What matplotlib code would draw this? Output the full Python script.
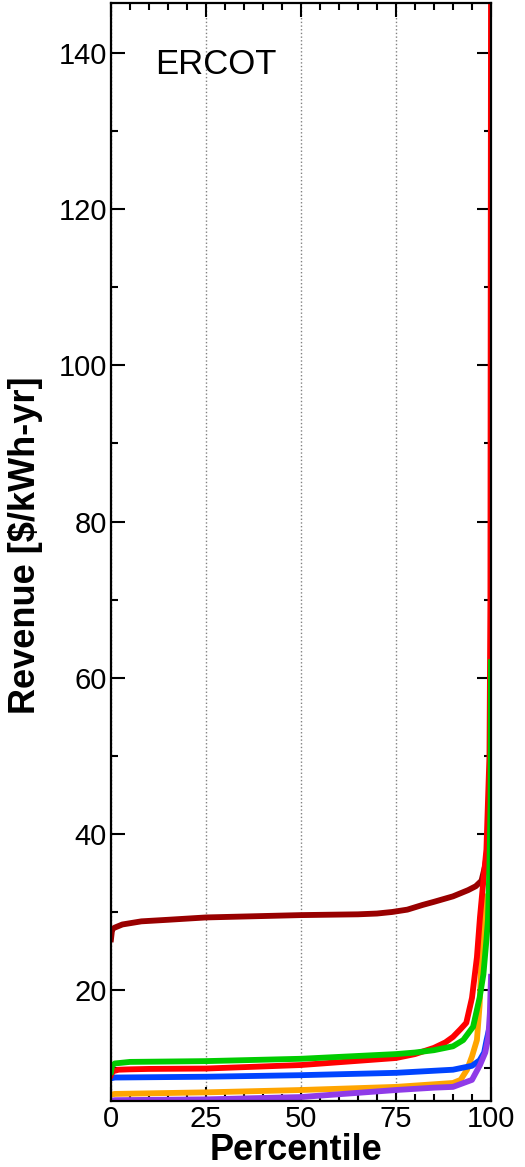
import matplotlib.pyplot as plt
from matplotlib.ticker import MultipleLocator

plt.rcParams['font.family'] = ['Liberation Sans', 'DejaVu Sans']

# percentile / revenue pairs
darkred_x = [0, 0.3, 1, 3, 8, 15, 25, 50, 65, 70, 74, 78, 82, 85, 90, 94, 96, 97.5, 98.5, 99.3, 99.8]
darkred_y = [26.5, 27.8, 28.0, 28.4, 28.8, 29.0, 29.3, 29.6, 29.7, 29.8, 30.0, 30.3, 30.9, 31.3, 32.0, 32.8, 33.3, 34.0, 36.0, 39.0, 42.0]

red_x = [0, 0.5, 2, 5, 10, 25, 50, 75, 80, 85, 88, 90, 92, 93.5, 95, 96.3, 97.1, 98, 98.8, 99.2, 99.6, 99.85, 100]
red_y = [9.1, 9.6, 9.8, 9.85, 9.9, 9.95, 10.4, 11.3, 11.8, 12.6, 13.3, 14.0, 15.0, 15.8, 19.0, 24.2, 29.3, 34.0, 38.0, 44.0, 50.0, 70.0, 146.0]

green_x = [0, 0.3, 1, 5, 25, 50, 75, 80, 85, 90, 92.7, 95.3, 97, 98, 98.8, 99.2, 99.6, 99.9, 100]
green_y = [9.5, 10.3, 10.6, 10.8, 10.9, 11.2, 11.8, 12.0, 12.3, 12.8, 13.6, 15.3, 19.0, 22.0, 26.4, 29.0, 36.0, 44.0, 62.0]

blue_x = [0, 1, 25, 50, 75, 90, 95, 97, 98.2, 98.8, 99.5, 100]
blue_y = [8.7, 8.8, 8.9, 9.1, 9.4, 9.8, 10.3, 11.0, 12.0, 13.5, 15.0, 16.0]

orange_x = [0, 1, 25, 50, 75, 90, 92, 93.7, 95, 96.3, 97, 97.5, 98, 98.5]
orange_y = [6.6, 6.7, 6.9, 7.2, 7.6, 8.1, 8.5, 9.8, 11.5, 13.6, 18.0, 24.0, 28.0, 32.0]

purple_x = [0, 1, 25, 50, 75, 85, 90, 95, 97.1, 98.5, 99.3, 99.7, 100]
purple_y = [5.8, 5.9, 6.0, 6.3, 7.2, 7.5, 7.6, 8.5, 10.4, 12.0, 14.0, 17.0, 21.7]

fig = plt.figure(figsize=(5.25, 11.67), dpi=100)
ax = fig.add_axes([0.2114, 0.0566, 0.7238, 0.9408])

lw = 4.2
ax.plot(darkred_x, darkred_y, color='#990000', lw=lw)
ax.plot(orange_x, orange_y, color='#ffa500', lw=lw)
ax.plot(blue_x, blue_y, color='#0044ff', lw=lw)
ax.plot(purple_x, purple_y, color='#8f3be8', lw=lw)
ax.plot(red_x, red_y, color='#ff0000', lw=lw)
ax.plot(green_x, green_y, color='#00cc00', lw=lw)

ax.set_xlim(0, 100)
ax.set_ylim(5.8, 146.4)
ax.xaxis.set_major_locator(MultipleLocator(25))
ax.xaxis.set_minor_locator(MultipleLocator(5))
ax.yaxis.set_minor_locator(MultipleLocator(10))
ax.set_yticks([20, 40, 60, 80, 100, 120, 140])

ax.tick_params(which='both', direction='in', top=True, right=True, width=1.5, labelsize=21, pad=3)
ax.tick_params(which='major', length=10)
ax.tick_params(which='minor', length=5)
for s in ax.spines.values():
    s.set_linewidth(1.6)

ax.grid(axis='x', which='major', linestyle=':', color='gray', lw=1)

ax.set_xlabel('Percentile', fontsize=26, fontweight='bold')
ax.xaxis.set_label_coords(0.488, -0.029)
ax.set_ylabel('Revenue [$/kWh-yr]', fontsize=26, fontweight='bold')
ax.yaxis.set_label_coords(-0.178, 0.506)

ax.text(0.115, 0.944, 'ERCOT', transform=ax.transAxes, fontsize=25, va='center', ha='left')

plt.savefig('out.png', dpi=100)
